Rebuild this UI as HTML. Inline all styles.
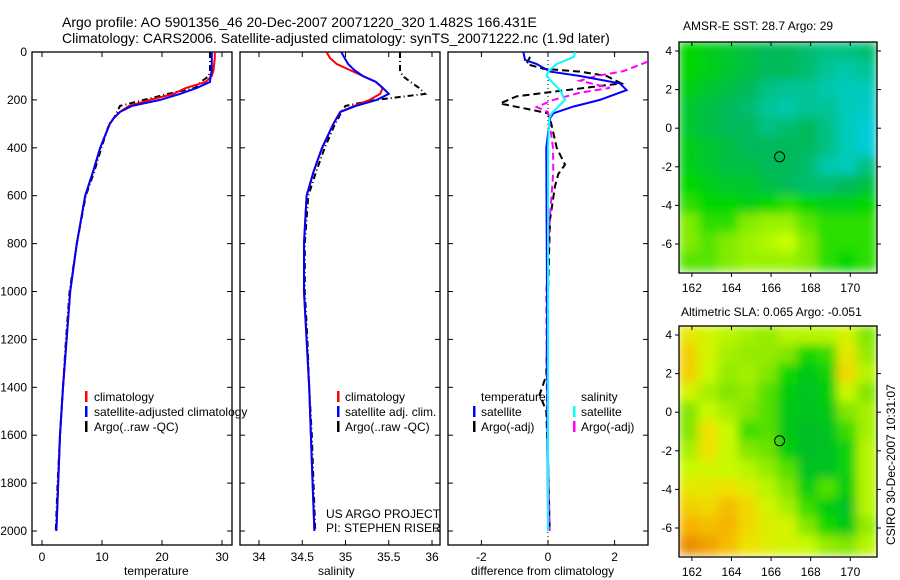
<!DOCTYPE html>
<html><head><meta charset="utf-8"><style>
html,body{margin:0;padding:0;background:#fff;}
svg{display:block;font-family:"Liberation Sans",sans-serif;}
</style></head><body>
<svg id="chart" width="900" height="580" viewBox="0 0 900 580" xmlns="http://www.w3.org/2000/svg">
<defs>
<filter id="smooth" x="0" y="0" width="1" height="1"><feGaussianBlur stdDeviation="5" edgeMode="duplicate"/></filter>
<clipPath id="clipMap1"><rect x="679" y="42" width="198" height="231"/></clipPath>
<clipPath id="clipMap2"><rect x="679" y="326" width="198" height="231"/></clipPath>
<clipPath id="clipP1"><rect x="32" y="52" width="200" height="493"/></clipPath>
<clipPath id="clipP2"><rect x="240" y="52" width="200" height="493"/></clipPath>
<clipPath id="clipP3"><rect x="448" y="52" width="200" height="493"/></clipPath>
</defs>
<text x="62" y="27" font-size="14">Argo profile: AO 5901356_46 20-Dec-2007 20071220_320 1.482S 166.431E</text>
<text x="62" y="43" font-size="14">Climatology: CARS2006. Satellite-adjusted climatology: synTS_20071222.nc (1.9d later)</text>
<g id="layer"></g>
<text x="124" y="575" font-size="12">temperature</text>
<text x="318" y="575" font-size="12">salinity</text>
<text x="471" y="575" font-size="12">difference from climatology</text>
<text x="326" y="518" font-size="12">US ARGO PROJECT</text>
<text x="326" y="532" font-size="12">PI: STEPHEN RISER</text>
<text x="683" y="30" font-size="12">AMSR-E SST: 28.7 Argo: 29</text>
<text x="681" y="316" font-size="12">Altimetric SLA: 0.065 Argo: -0.051</text>
<text transform="translate(895,545) rotate(-90)" font-size="12">CSIRO 30-Dec-2007 10:31:07</text>
<g font-size="12">
<rect x="85" y="391" width="2.5" height="11" fill="#f00"/>
<text x="94" y="401">climatology</text>
<rect x="85" y="406" width="2.5" height="11" fill="#00f"/>
<text x="94" y="416">satellite-adjusted climatology</text>
<rect x="85" y="421" width="2.5" height="11" fill="#000"/>
<text x="94" y="431">Argo(..raw -QC)</text>
</g>
<g font-size="12">
<rect x="337" y="391" width="2.5" height="11" fill="#f00"/>
<text x="345" y="401">climatology</text>
<rect x="337" y="406" width="2.5" height="11" fill="#00f"/>
<text x="345" y="416">satellite adj. clim.</text>
<rect x="337" y="421" width="2.5" height="11" fill="#000"/>
<text x="345" y="431">Argo(..raw -QC)</text>
</g>
<g font-size="12">
<text x="481" y="401">temperature</text>
<rect x="473" y="406" width="2.5" height="11" fill="#00f"/>
<text x="481" y="416">satellite</text>
<rect x="473" y="421" width="2.5" height="11" fill="#000"/>
<text x="481" y="431">Argo(-adj)</text>
<text x="581" y="401">salinity</text>
<rect x="573" y="406" width="2.5" height="11" fill="#0ff"/>
<text x="581" y="416">satellite</text>
<rect x="573" y="421" width="2.5" height="11" fill="#f0f"/>
<text x="581" y="431">Argo(-adj)</text>
</g>
</svg>
<script>
// ---- profile data ----
const depths = [0,25,50,75,100,125,150,175,200,225,250,275,300,400,500,600,800,1000,1200,1400,1600,1800,2000];
const tempClim = [28.8,28.8,28.7,28.6,28.3,27.3,24,21.9,18,14.5,13,12,11.3,9.7,8.5,7.2,5.8,4.7,4.1,3.5,3.0,2.7,2.4];
const tempSat = [28.3,28.3,28.3,28.3,28.1,28,25.8,23,19.7,15,13,12,11.3,9.7,8.5,7.2,5.8,4.7,4.1,3.5,3.0,2.7,2.4];
const tempArgo = [28,28,28,28,27.8,26.5,25.5,21,17,13,12.5,12,11.2,9.9,8.7,7.3,5.8,4.6,4.0,3.5,3.0,2.6,2.3];
const salClim = [34.78,34.82,34.9,35.05,35.2,35.35,35.43,35.4,35.28,35.1,34.94,34.9,34.86,34.73,34.63,34.55,34.52,34.52,34.55,34.58,34.6,34.62,34.64];
const salSat = [34.95,34.99,35.03,35.1,35.2,35.35,35.43,35.5,35.36,35.12,34.94,34.9,34.86,34.73,34.63,34.55,34.52,34.52,34.55,34.58,34.6,34.62,34.64];
const salArgo = [35.63,35.63,35.63,35.63,35.66,35.75,35.85,35.92,35.35,35.0,34.95,34.92,34.88,34.76,34.66,34.57,34.53,34.53,34.56,34.58,34.61,34.63,34.65];
// ---- difference data ----
const dTempSatDepth = [0,33,50,82,100,131,159,200,228,256,277,400,1000,2000];
const dTempSat = [-0.74,-0.69,-0.34,0.06,0.96,2.16,2.36,1.56,0.76,0.16,0.06,-0.05,-0.03,0];
const dSalSatDepth = [0,20,33,50,82,100,131,159,200,228,256,277,400,2000];
const dSalSat = [0.81,0.78,0.56,0.26,0,-0.04,0.16,0.36,0.51,0.31,0.11,0.04,0,0];
const dTempArgoDepth = [20,50,70,82,100,131,159,185,215,240,256,300,400,470,510,560,700,1000,1350,1430,1500,1700,2000];
const dTempArgo = [-0.54,-0.64,-0.14,0.96,1.76,2.2,0.56,-0.94,-1.44,-0.54,0,0.1,0.26,0.51,0.31,0.21,0.06,0,-0.05,-0.25,-0.05,0,0.05];
const dSalArgoDepth = [40,80,100,120,150,170,200,230,250,300,400,500,700,1000,1500,2000];
const dSalArgo = [3.0,2.26,1.46,0.96,1.86,0.96,0.16,-0.34,0,0.05,0.15,0.16,0.05,-0.05,-0.03,0.05];
// ---- axis ticks ----
const depthTicks = [0,200,400,600,800,1000,1200,1400,1600,1800,2000];
const tempTicks = [0,10,20,30];
const salTicks = [34,34.5,35,35.5,36];
const diffTicks = [-2,0,2];
const lonTicks = [162,164,166,168,170];
const latTicks = [4,2,0,-2,-4,-6];
// ---- map data (rows north->south, 1 deg cells) ----
const sstGrid = [
[29.0,28.9,28.8,28.7,28.6,28.6,28.5,28.4,28.4,28.5],
[29.0,28.9,28.8,28.7,28.6,28.6,28.5,28.3,28.2,28.3],
[28.9,28.8,28.7,28.6,28.4,28.3,28.3,28.2,28.1,28.1],
[28.8,28.7,28.6,28.5,28.3,28.2,28.3,28.3,28.1,28.0],
[28.8,28.7,28.6,28.6,28.4,28.5,28.6,28.4,28.1,27.9],
[28.9,28.8,28.7,28.6,28.6,28.6,28.6,28.4,28.1,27.9],
[28.9,28.8,28.7,28.7,28.6,28.6,28.5,28.2,28.1,28.4],
[29.0,28.9,28.8,28.8,28.7,28.6,28.5,28.5,28.6,28.7],
[29.1,29.0,29.0,28.9,29.0,29.1,29.0,28.9,28.9,29.0],
[29.3,29.1,29.1,29.3,29.4,29.4,29.2,29.1,29.1,29.1],
[29.3,29.2,29.3,29.4,29.5,29.6,29.3,29.1,29.1,29.1],
[29.2,29.2,29.3,29.4,29.4,29.4,29.3,29.1,29.0,29.1]];
const slaGrid = [
[0.12,0.10,0.08,0.07,0.06,0.08,0.08,0.08,0.10,0.05],
[0.15,0.10,0.07,0.06,0.06,0.05,0.00,0.02,0.12,0.06],
[0.15,0.09,0.06,0.07,0.05,0.00,-0.03,-0.01,0.14,0.08],
[0.10,0.07,0.05,0.06,0.03,-0.02,-0.04,-0.02,0.09,0.05],
[0.05,0.09,0.07,0.05,0.03,-0.03,-0.04,-0.03,0.05,0.07],
[0.05,0.13,0.09,0.02,0.03,-0.03,-0.05,-0.04,0.02,0.07],
[0.07,0.13,0.09,0.05,0.04,-0.02,-0.05,-0.04,-0.01,0.08],
[0.09,0.10,0.09,0.08,0.06,0.03,-0.04,-0.04,-0.01,0.08],
[0.12,0.12,0.13,0.11,0.08,0.05,-0.02,0.03,-0.02,0.08],
[0.15,0.14,0.17,0.14,0.10,0.07,0.02,-0.02,-0.04,0.08],
[0.18,0.17,0.18,0.14,0.11,0.10,0.05,0.00,-0.03,0.06],
[0.22,0.20,0.17,0.13,0.11,0.10,0.09,0.06,0.05,0.08]];
const argoLon = 166.431, argoLat = -1.482;

const NS='http://www.w3.org/2000/svg';
const layer=document.getElementById('layer');
function mk(tag,attrs,parent){const e=document.createElementNS(NS,tag);for(const k in attrs)e.setAttribute(k,attrs[k]);(parent||layer).appendChild(e);return e;}

const PT=52, PB=545;
const yDepth=d=>PT+d*(531-PT)/2000;
const panels=[
 {x0:32,x1:232,sx:v=>42+v*6,ticks:tempTicks,clip:'clipP1',name:'temperature'},
 {x0:240,x1:440,sx:v=>259+(v-34)*86.5,ticks:salTicks,clip:'clipP2',name:'salinity'},
 {x0:448,x1:648,sx:v=>548+v*33.3,ticks:diffTicks,clip:'clipP3',name:'difference'}
];
panels.forEach((p,i)=>{
  const g=mk('g',{});
  
  
  const r=mk('rect',{x:p.x0,y:PT,width:p.x1-p.x0,height:PB-PT,fill:'none',stroke:'#000','stroke-width':1.3},g);
  
  
  p.ticks.forEach(t=>{
    const x=p.sx(t);
    mk('line',{x1:x,x2:x,y1:PB,y2:PB-5,stroke:'#000'},g);
    mk('line',{x1:x,x2:x,y1:PT,y2:PT+5,stroke:'#000'},g);
    const tx=mk('text',{x:x,y:PB+16,'font-size':12,'text-anchor':'middle'},g);
    tx.textContent=String(t);
    
    
  });
  depthTicks.forEach(d=>{
    const y=yDepth(d);
    mk('line',{x1:p.x0,x2:p.x0+5,y1:y,y2:y,stroke:'#000'},g);
    mk('line',{x1:p.x1,x2:p.x1-5,y1:y,y2:y,stroke:'#000'},g);
    if(i===0){
      const tx=mk('text',{x:27,y:y+4,'font-size':12,'text-anchor':'end'},g);
      tx.textContent=String(d);
      
      
    }
  });
});
function series(p,xs,ds,color,dash,name,w){
  const pts=xs.map((v,k)=>p.sx(v).toFixed(1)+','+yDepth(ds[k]).toFixed(1)).join(' ');
  const e=mk('polyline',{points:pts,fill:'none',stroke:color,'stroke-width':w||2,'stroke-dasharray':dash||'none','clip-path':'url(#'+p.clip+')'});
  
  
}
const zl=mk('line',{x1:548,x2:548,y1:PT,y2:PB,stroke:'#000','stroke-dasharray':'1,3'});


series(panels[0],tempArgo,depths,'#000','6,3,1,3','temperature-argo-line');
series(panels[0],tempClim,depths,'#f00','','temperature-climatology-line');
series(panels[0],tempSat,depths,'#00f','','temperature-satellite-line');
series(panels[1],salArgo,depths,'#000','6,3,1,3','salinity-argo-line');
series(panels[1],salClim,depths,'#f00','','salinity-climatology-line');
series(panels[1],salSat,depths,'#00f','','salinity-satellite-line');
series(panels[2],dTempArgo,dTempArgoDepth,'#000','7,4','temperature-argo-diff-line');
series(panels[2],dSalArgo,dSalArgoDepth,'#f0f','7,4','salinity-argo-diff-line');
series(panels[2],dTempSat,dTempSatDepth,'#00f','','temperature-satellite-diff-line');
series(panels[2],dSalSat,dSalSatDepth,'#0ff','','salinity-satellite-diff-line');

function rgb(a){return 'rgb('+a.map(c=>Math.round(c)).join(',')+')';}
function lerpC(stops,v){
  if(v<=stops[0][0])return rgb(stops[0][1]);
  for(let i=1;i<stops.length;i++){if(v<=stops[i][0]){const a=stops[i-1],b=stops[i],t=(v-a[0])/(b[0]-a[0]);return rgb(a[1].map((c,k)=>c+(b[1][k]-c)*t));}}
  return rgb(stops[stops.length-1][1]);
}
const sstStops=[[27.9,[0,205,215]],[28.2,[0,200,170]],[28.6,[0,185,90]],[29.0,[0,215,0]],[29.3,[130,235,0]],[29.6,[200,255,0]]];
const slaStops=[[-0.05,[0,190,40]],[0,[10,215,0]],[0.05,[130,230,0]],[0.09,[200,250,0]],[0.13,[240,225,0]],[0.18,[245,180,0]],[0.22,[235,140,0]]];
function drawMap(y0,grid,stops,clip,name){
  const X0=679,X1=877,lonL=161.35,lonR=171.35;
  const sx=lon=>X0+(lon-lonL)*(X1-X0)/(lonR-lonL);
  const lat4=y0+9,latm6=y0+202;
  const sy=lat=>lat4+(4-lat)*(latm6-lat4)/10;
  const g=mk('g',{'clip-path':'url(#'+clip+')'});
  
  
  const inner=mk('g',{filter:'url(#smooth)'},g);
  grid.forEach((row,r)=>row.forEach((v,c)=>{
    const latTop=4.47-r*(11.87/12);
    const cell=mk('rect',{x:sx(lonL+c)-0.5,y:sy(latTop)-0.5,width:(X1-X0)/10+1,height:(latm6-lat4)/10*(11.87/12)+1,fill:lerpC(stops,v)},inner);
    
    
  }));
  const fr=mk('rect',{x:X0,y:y0,width:X1-X0,height:231,fill:'none',stroke:'#000','stroke-width':1.3});
  
  
  lonTicks.forEach(l=>{
    const x=sx(l);
    mk('line',{x1:x,x2:x,y1:y0,y2:y0+4,stroke:'#000'});
    mk('line',{x1:x,x2:x,y1:y0+231,y2:y0+235,stroke:'#000'});
    const t=mk('text',{x:x,y:y0+250,'font-size':12,'text-anchor':'middle'});
    t.textContent=String(l);
    
    
  });
  latTicks.forEach(l=>{
    const y=sy(l);
    mk('line',{x1:X0-4,x2:X0,y1:y,y2:y,stroke:'#000'});
    mk('line',{x1:X1,x2:X1+4,y1:y,y2:y,stroke:'#000'});
    const t=mk('text',{x:X0-7,y:y+4,'font-size':12,'text-anchor':'end'});
    t.textContent=String(l);
    
    
  });
  const m=mk('circle',{cx:sx(argoLon),cy:sy(argoLat),r:5,fill:'none',stroke:'#000','stroke-width':1});
  
  
}
drawMap(42,sstGrid,sstStops,'clipMap1','sst');
drawMap(326,slaGrid,slaStops,'clipMap2','sla');
</script>
</body></html>
